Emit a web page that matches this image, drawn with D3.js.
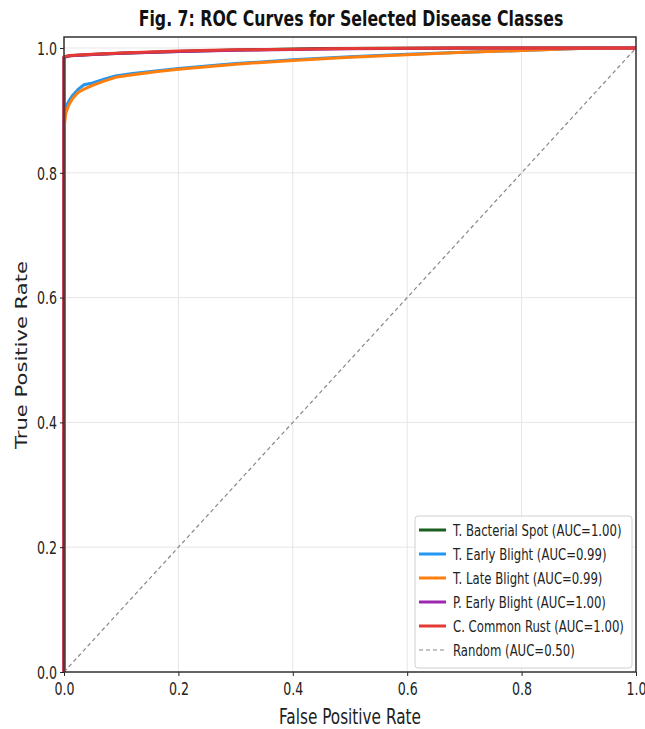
<!DOCTYPE html>
<html>
<head>
<meta charset="utf-8">
<script src="https://cdn.jsdelivr.net/npm/d3@7"></script>
<style>
  body { margin: 0; background: #fff; }
  svg { display: block; }
</style>
</head>
<body>
<svg width="645" height="729"></svg>
<script>
var svg = d3.select("svg"),
  width = +svg.attr("width"),
  height = +svg.attr("height");

var classNames = [
  "T. Bacterial Spot (AUC=1.00)",
  "T. Early Blight (AUC=0.99)",
  "T. Late Blight (AUC=0.99)",
  "P. Early Blight (AUC=1.00)",
  "C. Common Rust (AUC=1.00)",
];
var classColors = ["#1b5e20", "#2196f3", "#ff7f0e", "#9c27b0", "#e53935"];

var fprBacterial = [0, 0, 0.01, 0.05, 0.1, 0.2, 0.3, 0.45, 0.7, 1];
var tprBacterial = [0, 0.985, 0.9875, 0.9895, 0.9915, 0.9945, 0.9968, 0.9992, 1, 1];

var fprEarly = [0, 0, 0.003, 0.008, 0.015, 0.025, 0.035, 0.05, 0.07, 0.09, 0.12, 0.16, 0.2, 0.25, 0.3, 0.4, 0.5, 0.6, 0.7, 0.8, 0.9, 1];
var tprEarly = [0, 0.885, 0.905, 0.914, 0.924, 0.934, 0.941, 0.944, 0.95, 0.955, 0.959, 0.963, 0.967, 0.971, 0.975, 0.981, 0.986, 0.99, 0.993, 0.996, 0.999, 1];

var fprLate = [0, 0, 0.003, 0.008, 0.015, 0.025, 0.035, 0.05, 0.07, 0.09, 0.12, 0.16, 0.2, 0.25, 0.3, 0.4, 0.5, 0.6, 0.7, 0.8, 0.9, 1];
var tprLate = [0, 0.87, 0.895, 0.908, 0.919, 0.929, 0.934, 0.94, 0.947, 0.953, 0.957, 0.962, 0.966, 0.97, 0.974, 0.98, 0.985, 0.989, 0.993, 0.996, 0.999, 1];

var fprPotato = [0, 0, 0.01, 0.05, 0.1, 0.2, 0.3, 0.5, 0.7, 1];
var tprPotato = [0, 0.985, 0.9875, 0.9895, 0.9915, 0.9945, 0.9965, 0.9988, 1, 1];

var fprRust = [0, 0, 0.01, 0.05, 0.1, 0.2, 0.3, 0.5, 0.7, 1];
var tprRust = [0, 0.986, 0.988, 0.99, 0.992, 0.995, 0.997, 0.999, 1, 1];

var fprSeries = [fprBacterial, fprEarly, fprLate, fprPotato, fprRust];
var tprSeries = [tprBacterial, tprEarly, tprLate, tprPotato, tprRust];

var tickValues = [0, 0.2, 0.4, 0.6, 0.8, 1.0];

var margin = { left: 64, right: 636, top: 37, bottom: 672 };

var x = d3.scaleLinear().domain([0, 1]).range([margin.left, margin.right]);
var y = d3.scaleLinear().domain([0, 1.0176]).range([margin.bottom, margin.top]);

var condensed = "'DejaVu Sans Condensed', 'DejaVu Sans', sans-serif";
var stretch = 1.25; // text in the picture looks vertically stretched

// grid
svg.append("g")
  .selectAll("line")
  .data(tickValues)
  .enter()
  .append("line")
  .attr("x1", d => x(d)).attr("x2", d => x(d))
  .attr("y1", margin.top).attr("y2", margin.bottom)
  .attr("stroke", "#e6e6e6").attr("stroke-width", 1);
svg.append("g")
  .selectAll("line")
  .data(tickValues)
  .enter()
  .append("line")
  .attr("x1", margin.left).attr("x2", margin.right)
  .attr("y1", d => y(d)).attr("y2", d => y(d))
  .attr("stroke", "#e6e6e6").attr("stroke-width", 1);

svg.append("clipPath").attr("id", "plotclip")
  .append("rect")
  .attr("x", margin.left - 2).attr("y", margin.top - 2)
  .attr("width", margin.right - margin.left + 4)
  .attr("height", margin.bottom - margin.top + 2);

var plot = svg.append("g").attr("clip-path", "url(#plotclip)");

// random diagonal
plot.append("line")
  .attr("x1", x(0)).attr("y1", y(0))
  .attr("x2", x(1)).attr("y2", y(1))
  .attr("stroke", "#888").attr("stroke-width", 1.2)
  .attr("stroke-dasharray", "4,3");

var line = d3.line()
  .x(d => x(d[0]))
  .y(d => y(d[1]));

fprSeries.forEach(function (fpr, i) {
  var pts = fpr.map((f, j) => [f, tprSeries[i][j]]);
  plot.append("path")
    .datum(pts)
    .attr("d", line)
    .attr("fill", "none")
    .attr("stroke", classColors[i])
    .attr("stroke-width", 3)
    .attr("stroke-linejoin", "round");
});

// axes
var xAxis = d3.axisBottom(x).tickValues(tickValues).tickFormat(d3.format(".1f")).tickSize(4).tickSizeOuter(0);
var yAxis = d3.axisLeft(y).tickValues(tickValues).tickFormat(d3.format(".1f")).tickSize(4).tickSizeOuter(0);

var gx = svg.append("g").attr("transform", "translate(0," + margin.bottom + ")").call(xAxis);
var gy = svg.append("g").attr("transform", "translate(" + margin.left + ",0)").call(yAxis);
[gx, gy].forEach(function (g) {
  g.select(".domain").remove();
  g.selectAll(".tick line").attr("stroke", "#222").attr("stroke-width", 1);
  g.selectAll(".tick text").attr("font-family", condensed).attr("font-size", 14).attr("fill", "#222");
});
gx.selectAll(".tick text")
  .attr("y", 0).attr("dy", 0)
  .attr("transform", "translate(0,23) scale(1," + stretch + ")");
gy.selectAll(".tick text")
  .attr("x", 0).attr("dy", "0.36em")
  .attr("transform", "translate(-7,0) scale(1," + stretch + ")");

// spines
svg.append("rect")
  .attr("x", margin.left).attr("y", margin.top)
  .attr("width", margin.right - margin.left)
  .attr("height", margin.bottom - margin.top)
  .attr("fill", "none").attr("stroke", "#333").attr("stroke-width", 1.5);

// title and labels
svg.append("text")
  .attr("transform", "translate(351,26) scale(1," + stretch + ")")
  .attr("text-anchor", "middle")
  .attr("font-family", condensed)
  .attr("font-weight", "bold")
  .attr("font-size", 17.5)
  .attr("fill", "#111")
  .text("Fig. 7: ROC Curves for Selected Disease Classes");

svg.append("text")
  .attr("transform", "translate(350,724) scale(1,1.2)")
  .attr("text-anchor", "middle")
  .attr("font-family", condensed)
  .attr("font-size", 17)
  .attr("fill", "#222")
  .text("False Positive Rate");

svg.append("text")
  .attr("transform", "translate(27,355) rotate(-90) scale(1.32,1)")
  .attr("text-anchor", "middle")
  .attr("font-family", "'DejaVu Sans', sans-serif")
  .attr("font-size", 16)
  .attr("fill", "#222")
  .text("True Positive Rate");

// legend
var legendItems = classNames.map((n, i) => ({ name: n, color: classColors[i], dash: null }))
  .concat([{ name: "Random (AUC=0.50)", color: "#888", dash: "4,3" }]);

var legend = svg.append("g").attr("transform", "translate(415,516)");
legend.append("rect")
  .attr("width", 217).attr("height", 152)
  .attr("rx", 3)
  .attr("fill", "#fff").attr("fill-opacity", 0.85)
  .attr("stroke", "#d0d0d0");

var rows = legend.selectAll("g.row")
  .data(legendItems)
  .enter()
  .append("g")
  .attr("transform", (d, i) => "translate(0," + (14 + i * 24) + ")");
rows.append("line")
  .attr("x1", 4).attr("x2", 31)
  .attr("stroke", d => d.color)
  .attr("stroke-width", d => d.dash ? 1.2 : 3)
  .attr("stroke-dasharray", d => d.dash);
rows.append("text")
  .attr("x", 0).attr("y", 0).attr("dy", "0.36em")
  .attr("transform", "translate(38,0) scale(1," + stretch + ")")
  .attr("font-family", condensed)
  .attr("font-size", 13)
  .attr("fill", "#222")
  .text(d => d.name);
</script>
</body>
</html>
